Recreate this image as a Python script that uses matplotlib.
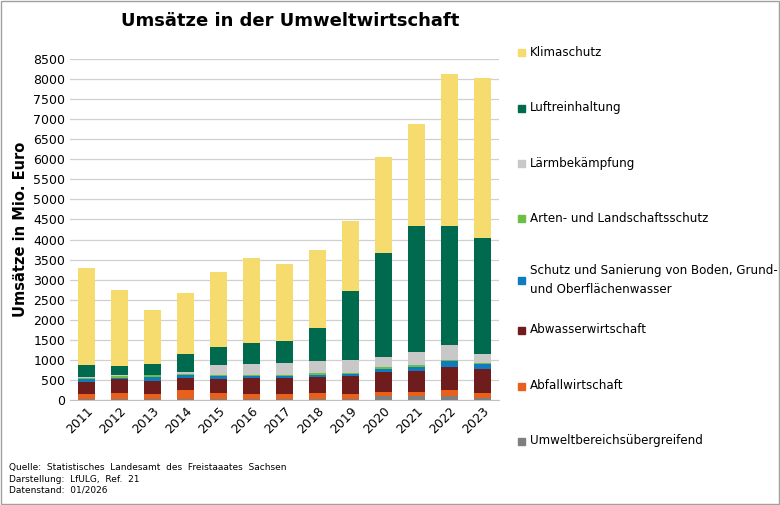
import numpy as np
import matplotlib.pyplot as plt
from matplotlib.patches import Rectangle

years = ['2011', '2012', '2013', '2014', '2015', '2016', '2017', '2018', '2019', '2020', '2021', '2022', '2023']
labels = ['Umweltbereichsübergreifend', 'Abfallwirtschaft', 'Abwasserwirtschaft',
          'Schutz und Sanierung von Boden, Grund-\nund Oberflächenwasser',
          'Arten- und Landschaftsschutz', 'Lärmbekämpfung', 'Luftreinhaltung', 'Klimaschutz']
colors = ['#7f7f7f', '#e8601c', '#6e1c1c', '#0f7cc0', '#6dbe45', '#c8c8c8', '#006a4e', '#f6dc6e']

# Werte in Mio. Euro (aus der Grafik geschätzt)
umwelt = [30, 30, 20, 30, 30, 30, 30, 30, 30, 100, 100, 100, 60]
abfall = [120, 150, 130, 220, 140, 120, 120, 140, 120, 100, 100, 160, 120]
abwasser = [300, 345, 325, 310, 355, 390, 390, 405, 440, 500, 530, 555, 600]
boden = [70, 35, 105, 60, 65, 60, 60, 55, 50, 80, 100, 145, 120]
arten = [30, 30, 30, 30, 30, 30, 30, 30, 30, 30, 30, 40, 30]
laerm = [30, 20, 20, 50, 250, 270, 280, 300, 330, 260, 340, 380, 220]
luft = [280, 230, 270, 450, 460, 520, 560, 840, 1720, 2600, 3140, 2960, 2880]
klima = [2440, 1890, 1340, 1520, 1870, 2110, 1920, 1950, 1750, 2390, 2540, 3790, 3990]
series = [umwelt, abfall, abwasser, boden, arten, laerm, luft, klima]

fig = plt.figure(figsize=(7.8, 5.05), dpi=100)
ax = fig.add_axes([0.09, 0.208, 0.55, 0.675])

x = np.arange(len(years))
bottom = np.zeros(len(years))
for vals, c in zip(series, colors):
    ax.bar(x, vals, 0.53, bottom=bottom, color=c, zorder=3)
    bottom += np.array(vals)

ax.set_ylim(0, 8500)
ax.set_yticks(range(0, 8501, 500))
ax.set_xlim(-0.5, len(years) - 0.5)
ax.set_xticks(x)
ax.set_xticklabels(years, rotation=45, ha='right', rotation_mode='anchor', fontsize=9)
ax.tick_params(axis='y', labelsize=9, length=0)
ax.tick_params(axis='x', length=0)
ax.grid(axis='y', color='#d0d0d0', lw=0.9, zorder=0)
for s in ['top', 'right', 'left']:
    ax.spines[s].set_visible(False)
ax.spines['bottom'].set_color('#c0c0c0')
ax.set_ylabel('Umsätze in Mio. Euro', fontsize=10.5, fontweight='bold')

fig.text(0.372, 0.958, 'Umsätze in der Umweltwirtschaft', ha='center', va='center',
         fontsize=13, fontweight='bold')

# Legende (von oben nach unten)
leg_y = [0.897, 0.787, 0.677, 0.568, 0.445, 0.347, 0.236, 0.127]
for lab, c, yy in zip(labels[::-1], colors[::-1], leg_y):
    fig.patches.append(Rectangle((0.664, yy - 0.008), 0.009, 0.014, color=c,
                                 transform=fig.transFigure))
    fig.text(0.679, yy, lab, va='center', fontsize=8.6, linespacing=1.6)

fig.text(0.012, 0.083, 'Quelle:  Statistisches  Landesamt  des  Freistaaates  Sachsen\n'
         'Darstellung:  LfULG,  Ref.  21\nDatenstand:  01/2026', fontsize=6.5,
         va='top', linespacing=1.35)

fig.patches.append(Rectangle((0.001, 0.001), 0.998, 0.998, fill=False, ec='#a0a0a0',
                             lw=1, transform=fig.transFigure))
fig.savefig('out.png', dpi=100)
